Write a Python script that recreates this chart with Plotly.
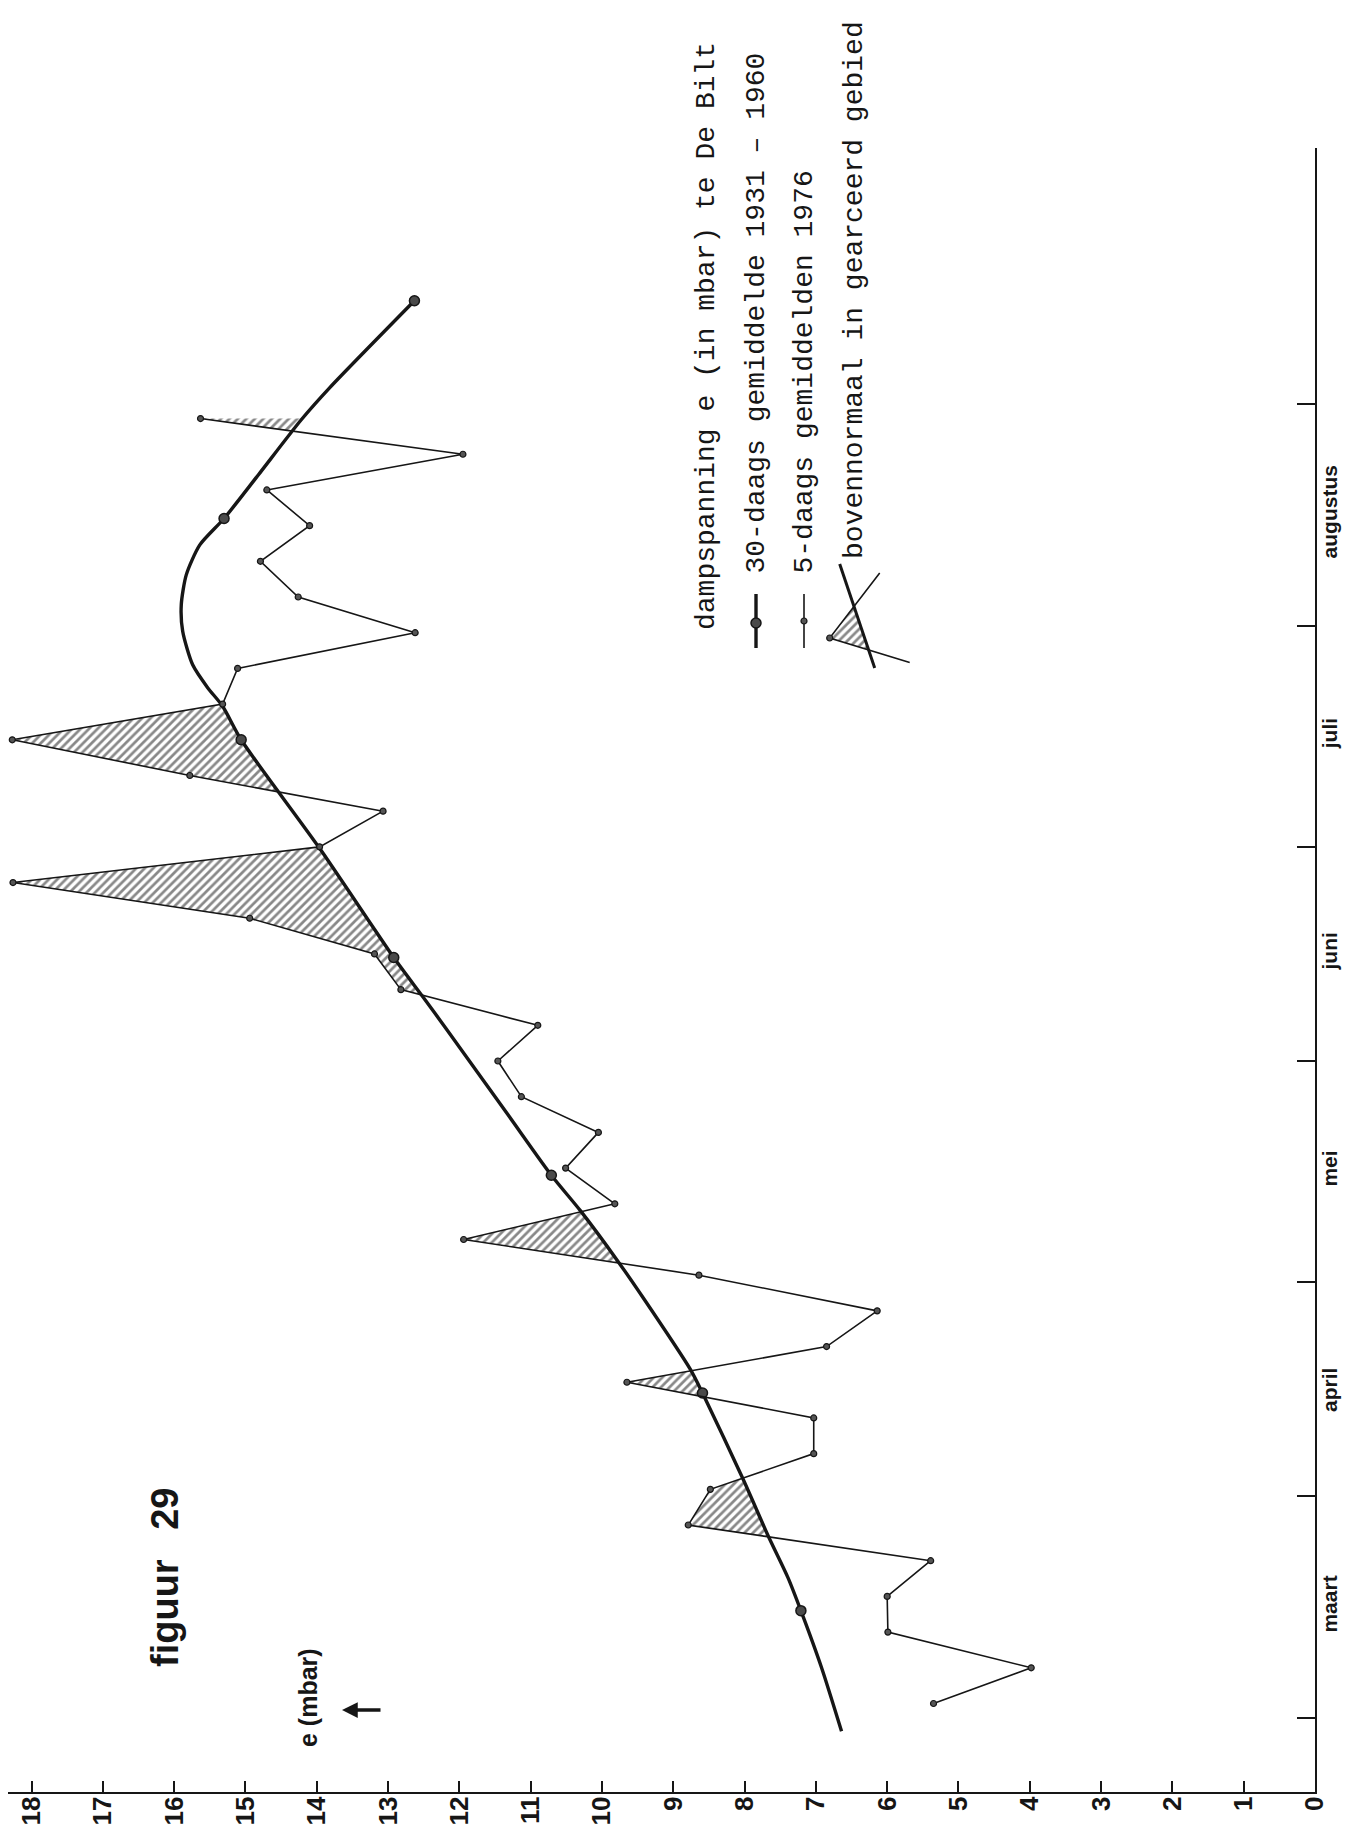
import numpy as np
import plotly.graph_objects as go

# ---------------- data ----------------
# 5-daily means 1976 (mbar), pentad centre = days since 1 March
pentad_days = [2, 7, 12, 17, 22, 27, 32, 37, 42, 47, 52, 57, 62, 67, 72, 77, 82, 87, 92,
               97, 102, 107, 112, 117, 122, 127, 132, 137, 142, 147, 152, 157, 162, 167,
               172, 177, 182]
pentad_vals = [5.35, 3.98, 5.99, 6.00, 5.39, 8.79, 8.48, 7.03, 7.03, 9.65, 6.85, 6.14,
               8.64, 11.94, 9.82, 10.51, 10.05, 11.13, 11.46, 10.90, 12.82, 13.19, 14.94,
               18.26, 13.96, 13.07, 15.78, 18.27, 15.32, 15.11, 12.62, 14.26, 14.79, 14.10,
               14.70, 11.95, 15.63]

# 30-daily normal 1931-1960 (smooth curve as drawn)
normal_days = [-1.9, 7.0, 15, 19.6, 25.5, 33.4, 45.5, 48.8, 58.8, 64.0, 71.0, 76, 84.5,
               96.6, 101.1, 106.5, 121.8, 137, 141.7, 144.3, 147.5, 152.2, 155.9, 160.1,
               164.3, 168, 174.1, 181.8, 186.3, 198.5]
normal_vals = [6.64, 6.92, 7.21, 7.39, 7.67, 8.02, 8.59, 8.76, 9.42, 9.78, 10.30, 10.71,
               11.32, 12.19, 12.52, 12.92, 13.96, 15.06, 15.32, 15.53, 15.74, 15.88, 15.90,
               15.83, 15.64, 15.30, 14.82, 14.22, 13.82, 12.63]

# monthly normal means (big dots)
month_mid_days = [15, 45.5, 76, 106.5, 137, 168, 198.5]
month_mid_vals = [7.21, 8.59, 10.71, 12.92, 15.06, 15.30, 12.63]

# time axis
month_start_days = [0, 31, 61, 92, 122, 153, 184]
month_label_days = [15.5, 45.5, 76.5, 107, 137.5, 168.5]
month_labels = ["maart", "april", "mei", "juni", "juli", "augustus"]

value_ticks = list(range(0, 19))

# ---------------- geometry ----------------
W, H = 1353, 1825
PL, PR, PT, PB = 0, 1307, 140, 1784
XR = [18.33, 0]
YR = [-10.4, 219.9]


def px2x(px):
    return XR[0] + (px - PL) / (PR - PL) * (XR[1] - XR[0])


def px2y(py):
    return YR[0] + (PB - py) / (PB - PT) * (YR[1] - YR[0])


def pp(px, py):
    return (px - PL) / (PR - PL), (PB - py) / (PB - PT)


INK = "#161616"
SANS = "Liberation Sans, Arial, sans-serif"
HATCH = dict(shape="/", size=6, solidity=0.45, fgcolor="#111", bgcolor="rgba(0,0,0,0)")

# ---------------- hatched (above-normal) area ----------------
td = np.array(pentad_days, float)
tv = np.array(pentad_vals, float)
nd = np.array(normal_days, float)
nv = np.array(normal_vals, float)
grid = np.union1d(td, nd[(nd >= td[0]) & (nd <= td[-1])])
gt = np.interp(grid, td, tv)
gn = np.interp(grid, nd, nv)
fd, ft, fn = [], [], []
for i in range(len(grid)):
    if i > 0:
        d0 = gt[i - 1] - gn[i - 1]
        d1 = gt[i] - gn[i]
        if d0 * d1 < 0:
            f = d0 / (d0 - d1)
            dc = grid[i - 1] + f * (grid[i] - grid[i - 1])
            vc = gn[i - 1] + f * (gn[i] - gn[i - 1])
            fd.append(dc); ft.append(vc); fn.append(vc)
    fd.append(grid[i]); ft.append(gt[i]); fn.append(gn[i])
fd = np.array(fd); ft = np.array(ft); fn = np.array(fn)
upper = np.maximum(ft, fn)

fig = go.Figure()
fig.add_trace(go.Scatter(x=fn, y=fd, mode="lines", line=dict(width=0, color="rgba(0,0,0,0)"),
                         showlegend=False, hoverinfo="skip"))
fig.add_trace(go.Scatter(x=upper, y=fd, mode="lines", line=dict(width=0, color="rgba(0,0,0,0)"),
                         fill="tonextx", fillcolor="rgba(0,0,0,0)", fillpattern=HATCH,
                         showlegend=False, hoverinfo="skip"))

# normal curve
fig.add_trace(go.Scatter(x=normal_vals, y=normal_days, mode="lines",
                         line=dict(color=INK, width=3.4, shape="spline", smoothing=0.7),
                         showlegend=False, hoverinfo="skip"))
fig.add_trace(go.Scatter(x=month_mid_vals, y=month_mid_days, mode="markers",
                         marker=dict(size=10, color="#4a4a4a", line=dict(color=INK, width=1.5)),
                         showlegend=False, hoverinfo="skip"))
# 5-daily 1976
fig.add_trace(go.Scatter(x=pentad_vals, y=pentad_days, mode="lines+markers",
                         line=dict(color=INK, width=1.6),
                         marker=dict(size=6, color="#555", line=dict(color=INK, width=1.2)),
                         showlegend=False, hoverinfo="skip"))

# invisible trace for month-label axis
fig.add_trace(go.Scatter(x=[9], y=[100], yaxis="y2", mode="markers",
                         marker=dict(opacity=0), showlegend=False, hoverinfo="skip"))

# ---------------- legend glyphs ----------------
fig.add_trace(go.Scatter(x=[px2x(748), px2x(748)], y=[px2y(586), px2y(640)], mode="lines",
                         line=dict(color=INK, width=3.4), showlegend=False, hoverinfo="skip"))
fig.add_trace(go.Scatter(x=[px2x(748)], y=[px2y(615)], mode="markers",
                         marker=dict(size=10, color="#4a4a4a", line=dict(color=INK, width=1.5)),
                         showlegend=False, hoverinfo="skip"))
fig.add_trace(go.Scatter(x=[px2x(796), px2x(796)], y=[px2y(586), px2y(640)], mode="lines",
                         line=dict(color=INK, width=1.6), showlegend=False, hoverinfo="skip"))
fig.add_trace(go.Scatter(x=[px2x(796)], y=[px2y(613)], mode="markers",
                         marker=dict(size=6, color="#555", line=dict(color=INK, width=1.2)),
                         showlegend=False, hoverinfo="skip"))
tri_px = [(821.7, 630), (846, 598.5), (860.6, 642), (821.7, 630)]
fig.add_trace(go.Scatter(x=[px2x(a) for a, b in tri_px], y=[px2y(b) for a, b in tri_px],
                         mode="lines", line=dict(width=0, color="rgba(0,0,0,0)"), fill="toself",
                         fillcolor="rgba(0,0,0,0)", fillpattern=HATCH,
                         showlegend=False, hoverinfo="skip"))
fig.add_trace(go.Scatter(x=[px2x(831.7), px2x(866.7)], y=[px2y(556), px2y(660)], mode="lines",
                         line=dict(color=INK, width=3), showlegend=False, hoverinfo="skip"))
fig.add_trace(go.Scatter(x=[px2x(871.7), px2x(821.7), px2x(901.7)],
                         y=[px2y(565), px2y(630), px2y(654.6)], mode="lines",
                         line=dict(color=INK, width=1.6), showlegend=False, hoverinfo="skip"))
fig.add_trace(go.Scatter(x=[px2x(821.7)], y=[px2y(630)], mode="markers",
                         marker=dict(size=6, color="#555", line=dict(color=INK, width=1.2)),
                         showlegend=False, hoverinfo="skip"))

# ---------------- annotations ----------------
ann = []
mono = "Liberation Mono, DejaVu Sans Mono, monospace"
legend_texts = [
    ("dampspanning e (in mbar) te De Bilt", 698, 624),
    ("30-daags gemiddelde 1931 \u2013 1960", 748, 568),
    ("5-daags gemiddelden 1976", 796, 568),
    ("bovennormaal in gearceerd gebied", 846, 553),
]
for t, px, py in legend_texts:
    x0, y0 = pp(px, py)
    ann.append(dict(text=t, x=x0, y=y0, xref="paper", yref="paper", showarrow=False,
                    textangle=-90, xanchor="center", yanchor="bottom",
                    font=dict(family=mono, size=28, color=INK)))

x0, y0 = pp(157, 1570)
ann.append(dict(text="<b>figuur\u2002\u00a029</b>", x=x0, y=y0, xref="paper", yref="paper",
                showarrow=False, textangle=-90, xanchor="center", yanchor="middle",
                font=dict(family=SANS, size=38, color=INK)))
x0, y0 = pp(300, 1690)
ann.append(dict(text="<b>e (mbar)</b>", x=x0, y=y0, xref="paper", yref="paper",
                showarrow=False, textangle=-90, xanchor="center", yanchor="middle",
                font=dict(family=SANS, size=25, color=INK)))
x0, y0 = pp(334, 1702)
ann.append(dict(text="", x=x0, y=y0, xref="paper", yref="paper", showarrow=True,
                ax=40, ay=0, arrowhead=2, arrowsize=0.9, arrowwidth=3.5, arrowcolor=INK))

fig.update_layout(
    width=W, height=H,
    paper_bgcolor="white", plot_bgcolor="white",
    margin=dict(l=PL, r=W - PR, t=PT, b=H - PB, autoexpand=False),
    annotations=ann,
    xaxis=dict(range=XR, showgrid=False, zeroline=False, showline=True, linecolor=INK,
               linewidth=2.2, ticks="inside", ticklen=11, tickwidth=1.6, tickcolor=INK,
               tickvals=value_ticks, ticktext=["<b>%d</b>" % v for v in value_ticks],
               tickangle=-90, ticklabelstandoff=-8,
               tickfont=dict(family=SANS, size=26, color=INK)),
    yaxis=dict(range=YR, side="right", showgrid=False, zeroline=False, showline=True,
               linecolor=INK, linewidth=2.2, ticks="inside", ticklen=18, tickwidth=1.6,
               tickcolor=INK, tickvals=month_start_days, showticklabels=False),
    yaxis2=dict(range=YR, overlaying="y", side="right", showgrid=False, zeroline=False,
                showline=False, ticks="", tickvals=month_label_days,
                ticktext=["<b>%s</b>" % m for m in month_labels], tickangle=-90,
                tickfont=dict(family=SANS, size=21, color=INK)),
)

fig.write_html("out.html")
